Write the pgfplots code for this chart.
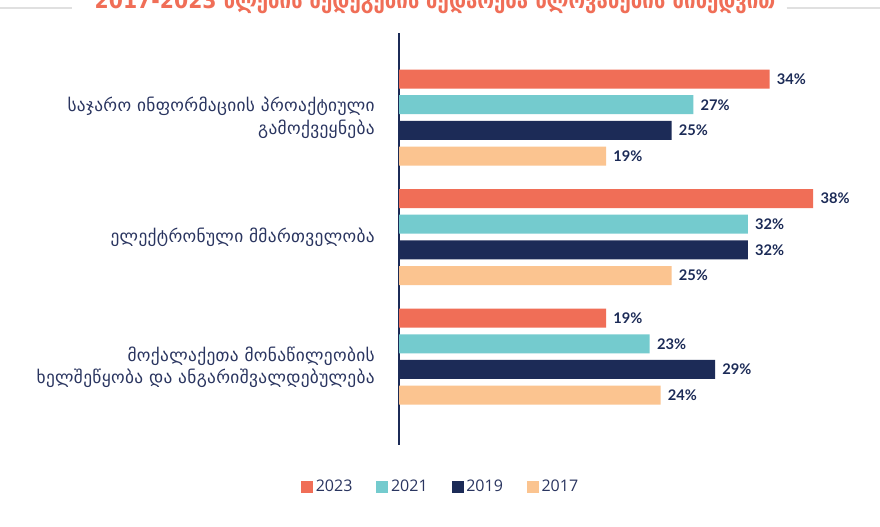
\documentclass[border=0pt]{standalone}
\usepackage{fontspec}
\setmainfont{Open Sans}
\newfontfamily\geofont[LetterSpace=2]{DejaVu Sans}
\newfontfamily\titlefont{DejaVu Sans Condensed}
\newfontfamily\labfont{Lato}
\usepackage{pgfplots}
\pgfplotsset{compat=1.18}
\definecolor{cA}{HTML}{F06E57}
\definecolor{cB}{HTML}{74CBCE}
\definecolor{cC}{HTML}{1C2B57}
\definecolor{cD}{HTML}{FBC490}
\definecolor{txt}{HTML}{2A3560}
\begin{document}
\begin{tikzpicture}
\useasboundingbox (0,0) rectangle (660pt,394.5pt);
\fill[white] (0,0) rectangle (660pt,394.5pt);
\draw[black!12, line width=1.5pt] (0,388.5pt) -- (54pt,388.5pt);
\draw[black!12, line width=1.5pt] (590pt,388.5pt) -- (660pt,388.5pt);
\node[anchor=base, font=\titlefont\bfseries\fontsize{17}{20}\selectfont, text=cA] at (326.25pt,387.75pt) {2017-2023 წლების შედეგების შედარება წლოვანების მიხედვით};
\begin{axis}[
  at={(299.25pt,60.75pt)}, anchor=south west,
  scale only axis, width=327pt, height=309pt,
  xmin=0, xmax=40, ymin=-0.707, ymax=2.74, y dir=reverse,
  xbar, bar width=14.25pt, bar shift=0pt,
  axis x line=none, axis y line=left,
  y axis line style={-, draw=cC, line width=1.3pt},
  ytick={0,1,2.09}, major tick length=0pt,
  yticklabels={{საჯარო ინფორმაციის პროაქტიული\\გამოქვეყნება},{ელექტრონული მმართველობა},{მოქალაქეთა მონაწილეობის\\ხელშეწყობა და ანგარიშვალდებულება}},
  yticklabel style={align=right, font=\geofont\fontsize{13}{17}\selectfont, text=txt, inner sep=0pt, xshift=-18pt},
  clip=false,
  point meta=x,
  /pgf/number format/assume math mode=true,
  nodes near coords={\pgfmathprintnumber{\pgfplotspointmeta}\%},
  nodes near coords style={font=\labfont\bfseries\fontsize{11}{13}\selectfont, text=cC, anchor=west, xshift=2pt},
  legend columns=4,
  legend style={at={(0.0963,-0.102)}, anchor=center, draw=none, fill=none, font=\fontsize{12}{14}\selectfont, text=txt, /tikz/every even column/.append style={column sep=16pt}},
  legend image code/.code={\fill[#1] (0pt,-4.5pt) rectangle (9pt,4.5pt);},
]
\addplot[fill=cA, draw=none] coordinates {(34,-0.322) (38,0.678) (19,1.678)};
\addplot[fill=cB, draw=none] coordinates {(27,-0.107) (32,0.893) (23,1.893)};
\addplot[fill=cC, draw=none] coordinates {(25,0.107) (32,1.107) (29,2.107)};
\addplot[fill=cD, draw=none] coordinates {(19,0.322) (25,1.322) (24,2.322)};
\legend{2023,2021,2019,2017}
\end{axis}
\end{tikzpicture}
\end{document}
